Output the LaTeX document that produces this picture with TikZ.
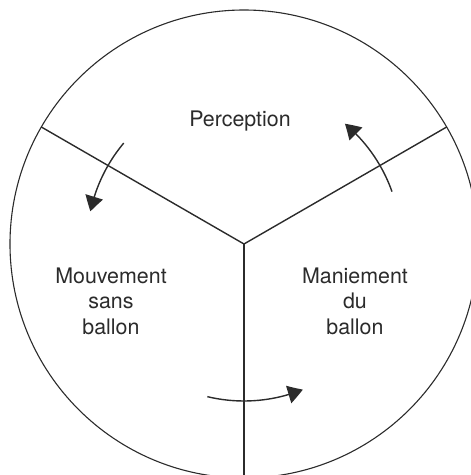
\documentclass[tikz,border=0pt]{standalone}
\usepackage{fontspec}
\setmainfont{TeX Gyre Heros}
\usetikzlibrary{arrows.meta,bending}
\definecolor{ink}{HTML}{2B2B2B}
\tikzset{
  rim/.style={draw=ink, line width=1.1pt},
  divider/.style={draw=ink, line width=1.4pt},
  turn/.style={draw=ink, line width=1.4pt, -{Triangle[length=15pt,width=18pt,bend]}},
  label/.style={text=ink, font=\fontsize{21.4}{25.5}\selectfont, align=center, anchor=base, inner sep=0pt}
}
\begin{document}
\begin{tikzpicture}[x=1pt,y=1pt]
  \path[use as bounding box] (-244,-231) rectangle (227,244);
  \clip (-244,-231) rectangle (227,244);
  \coordinate (c) at (0,0);
  \coordinate (ul) at (150:234);
  \coordinate (ur) at (30:234);
  \coordinate (dn) at (270:234);
  \draw[rim] (c) circle[radius=234];
  \draw[divider] (c) -- (ul);
  \draw[divider] (c) -- (ur);
  \draw[divider] (c) -- (dn);
  \coordinate (a1) at (140:157);
  \coordinate (a2) at (19.5:157);
  \coordinate (a3) at (256.5:157);
  \draw[turn] (a1) arc[start angle=140, end angle=168, radius=157];
  \draw[turn] (a2) arc[start angle=19.5, end angle=50, radius=157];
  \draw[turn] (a3) arc[start angle=256.5, end angle=292, radius=157];
  \node[label] (perc) at (-4,118) {Perception};
  \node[label] (mouv) at (-133,-90) {Mouvement\\sans\\ballon};
  \node[label] (man) at (111,-90) {Maniement\\du\\ballon};
\end{tikzpicture}
\end{document}
